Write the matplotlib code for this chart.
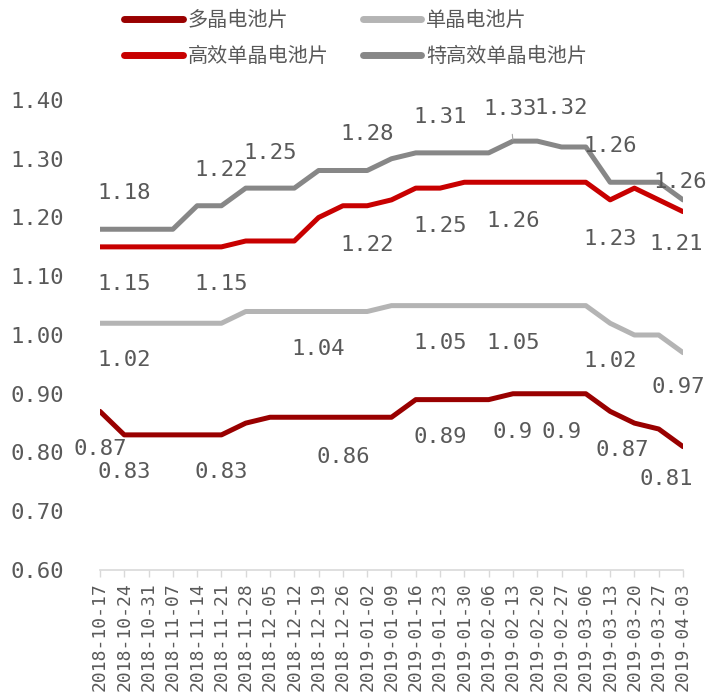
import matplotlib.pyplot as plt
from matplotlib.lines import Line2D

plt.rcParams['font.family'] = ['DejaVu Sans Mono', 'Noto Sans CJK SC']

# weekly quote dates
dates = ['2018-10-17', '2018-10-24', '2018-10-31', '2018-11-07', '2018-11-14',
         '2018-11-21', '2018-11-28', '2018-12-05', '2018-12-12', '2018-12-19',
         '2018-12-26', '2019-01-02', '2019-01-09', '2019-01-16', '2019-01-23',
         '2019-01-30', '2019-02-06', '2019-02-13', '2019-02-20', '2019-02-27',
         '2019-03-06', '2019-03-13', '2019-03-20', '2019-03-27', '2019-04-03']

multi = [0.87, 0.83, 0.83, 0.83, 0.83, 0.83, 0.85, 0.86, 0.86, 0.86,
         0.86, 0.86, 0.86, 0.89, 0.89, 0.89, 0.89, 0.90, 0.90, 0.90,
         0.90, 0.87, 0.85, 0.84, 0.81]
mono = [1.02, 1.02, 1.02, 1.02, 1.02, 1.02, 1.04, 1.04, 1.04, 1.04,
        1.04, 1.04, 1.05, 1.05, 1.05, 1.05, 1.05, 1.05, 1.05, 1.05,
        1.05, 1.02, 1.00, 1.00, 0.97]
high_eff = [1.15, 1.15, 1.15, 1.15, 1.15, 1.15, 1.16, 1.16, 1.16, 1.20,
            1.22, 1.22, 1.23, 1.25, 1.25, 1.26, 1.26, 1.26, 1.26, 1.26,
            1.26, 1.23, 1.25, 1.23, 1.21]
super_eff = [1.18, 1.18, 1.18, 1.18, 1.22, 1.22, 1.25, 1.25, 1.25, 1.28,
             1.28, 1.28, 1.30, 1.31, 1.31, 1.31, 1.31, 1.33, 1.33, 1.32,
             1.32, 1.26, 1.26, 1.26, 1.23]

names = ['多晶电池片', '单晶电池片', '高效单晶电池片', '特高效单晶电池片']
colors = ['#990000', '#b4b4b4', '#c80000', '#878787']

# which points carry a value label: index -> (dx, dy) in pixels
labels_multi = {0: (0, -38), 1: (0, -37), 5: (0, -37), 10: (0, -40), 14: (0, -37),
                17: (0, -38), 19: (0, -38), 21: (12, -39), 24: (-17, -32)}
labels_mono = {1: (0, -37), 9: (0, -38), 14: (0, -37), 17: (0, -37),
               21: (0, -38), 24: (-5, -34)}
labels_high = {1: (0, -37), 5: (0, -37), 11: (0, -39), 14: (0, -38),
               17: (0, -39), 21: (0, -39), 24: (-7, -32)}
labels_super = {1: (0, 36), 5: (0, 36), 7: (0, 35), 11: (0, 36), 14: (0, 36),
                19: (0, 39), 21: (0, 36), 23: (21, 0)}

fig = plt.figure(figsize=(7.08, 6.92), dpi=100)
ax = fig.add_axes([0.1412, 0.1763, 0.8235, 0.6792])

x = list(range(len(dates)))
series = [multi, mono, high_eff, super_eff]
for vals, c in zip(series, colors):
    ax.plot(x, vals, color=c, lw=3.6, solid_capstyle='round', solid_joinstyle='round')

txt = '#595959'
for vals, labs in zip(series, [labels_multi, labels_mono, labels_high, labels_super]):
    for i, (dx, dy) in labs.items():
        ax.annotate(f'{vals[i]:g}', (i, vals[i]), xytext=(dx, dy),
                    textcoords='offset pixels', ha='center', va='center',
                    fontsize=16, color=txt)

# 1.33 label sits higher with a thin leader line
ax.annotate(f'{super_eff[17]:g}', (17, super_eff[17]), xytext=(-3, 32),
            textcoords='offset pixels', ha='center', va='center',
            fontsize=16, color=txt,
            arrowprops=dict(arrowstyle='-', color='#a6a6a6', lw=0.8,
                            shrinkA=9, shrinkB=1))

ax.set_xlim(0, len(dates) - 1)
ax.set_ylim(0.60, 1.40)
ax.set_yticks([0.6, 0.7, 0.8, 0.9, 1.0, 1.1, 1.2, 1.3, 1.4])
ax.set_yticklabels([f'{v:.2f}' for v in ax.get_yticks()], fontsize=16, color=txt)
ax.set_xticks(x)
ax.set_xticklabels(dates, rotation=90, fontsize=13, color=txt)

for s in ['top', 'right', 'left']:
    ax.spines[s].set_visible(False)
ax.spines['bottom'].set_color('#d9d9d9')
ax.spines['bottom'].set_linewidth(1.2)
ax.tick_params(axis='y', length=0, pad=26)
ax.tick_params(axis='x', length=5, color='#d9d9d9', width=1, pad=4)

# legend fills column-wise, so order the entries to read row by row
order = [0, 2, 1, 3]
handles = [Line2D([], [], color=colors[k], lw=5, solid_capstyle='round') for k in order]
fig.legend(handles, [names[k] for k in order], loc='upper left',
           bbox_to_anchor=(0.15, 1.012), ncol=2, frameon=False,
           handlelength=2.9, columnspacing=1.7, handletextpad=0.25,
           labelspacing=0.75, labelcolor=txt,
           prop={'family': 'Noto Sans CJK SC', 'size': 14.5})

fig.savefig('out.png', dpi=100)
